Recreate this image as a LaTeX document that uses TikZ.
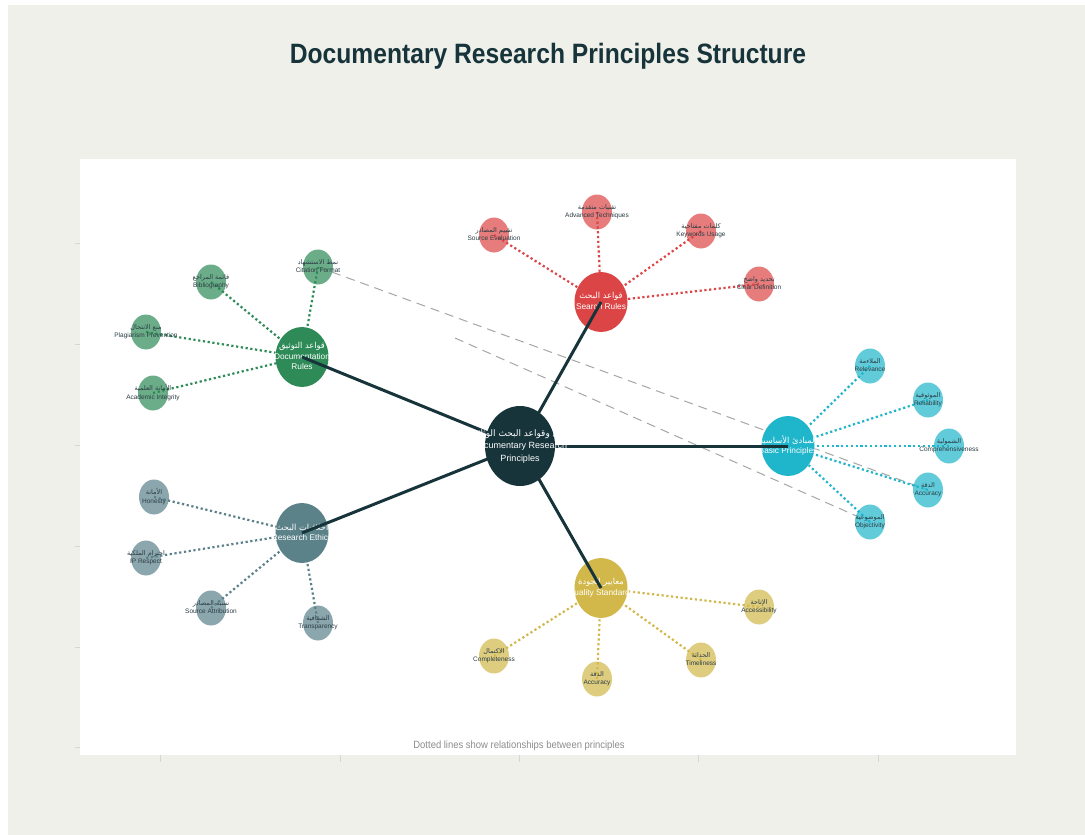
\documentclass[tikz,border=0pt]{standalone}
\usepackage{fontspec}
\setmainfont{Liberation Sans}
\newfontfamily\arabicfont[Script=Arabic]{DejaVu Sans}
\TeXXeTstate=1
\usetikzlibrary{shapes.geometric}

\definecolor{paper}{HTML}{F0F0EB}
\definecolor{ink}{HTML}{17343B}
\definecolor{kidink}{HTML}{2B3D44}
\definecolor{srch}{HTML}{DC4545}
\definecolor{docu}{HTML}{2E8B57}
\definecolor{basic}{HTML}{1FB5CB}
\definecolor{ethic}{HTML}{5B8189}
\definecolor{qual}{HTML}{D2B84A}
\definecolor{tickgray}{HTML}{D6D6D2}
\definecolor{notegray}{HTML}{8C8C8C}

\newcommand{\artxt}[1]{{\arabicfont\beginR #1\endR}}
\newcommand{\duo}[2]{\makebox[0pt]{\begin{tabular}{@{}c@{}}#1\\#2\end{tabular}}}

\pgfdeclarelayer{bglayer}
\pgfdeclarelayer{hublayer}
\pgfdeclarelayer{toplayer}
\pgfsetlayers{bglayer,main,hublayer,toplayer}

\begin{document}
\begin{tikzpicture}[
    x=1pt, y=-1pt,
    hubnode/.style={ellipse, fill=ink, minimum width=70pt, minimum height=80pt,
                    inner sep=0pt, text=white, font=\fontsize{9}{12.5}\selectfont},
    topic/.style={ellipse, minimum width=53pt, minimum height=60pt, inner sep=0pt,
                  text=white, font=\fontsize{8.3}{10.5}\selectfont},
    kid/.style={ellipse, minimum width=30pt, minimum height=35pt, inner sep=0pt,
                fill opacity=0.7, text opacity=1, text=kidink,
                font=\fontsize{6.5}{8.5}\selectfont},
    spoke/.style={line width=3pt, ink},
    twig/.style={line width=2.2pt, dash pattern=on 2.2pt off 2.6pt},
    xlink/.style={line width=1pt, gray!70, dash pattern=on 9pt off 6pt}
  ]
  \useasboundingbox (0,0) rectangle (1085,835);

  % ---- page and plot area ----
  \begin{pgfonlayer}{bglayer}
    \fill[white] (0,0) rectangle (1085,835);
    \fill[paper] (8,5) rectangle (1085,835);
    \fill[white] (80,159) rectangle (1016,755);
    \foreach \ty in {243,344,445,546,647,747}
      \draw[tickgray, line width=0.8pt] (75,\ty) -- (80,\ty);
    \foreach \tx in {160,340,519,698,878}
      \draw[tickgray, line width=0.8pt] (\tx,755) -- (\tx,762);
  \end{pgfonlayer}

  \node[text=ink, font=\fontsize{28}{32}\selectfont\bfseries] (title) at (548,56)
    {\scalebox{0.88}[1]{Documentary Research Principles Structure}};

  % ---- centre ----
  \begin{pgfonlayer}{toplayer}
    \node[hubnode] (hub) at (520,446)
      {\duo{\artxt{مبادئ وقواعد البحث الوثائقي}}{Documentary Research\\Principles}};
  \end{pgfonlayer}

  % ---- search rules ----
  \node[kid, fill=srch] (seval) at (494,235) {\duo{\artxt{تقييم المصادر}}{Source Evaluation}};
  \node[kid, fill=srch] (sadv) at (597,212) {\duo{\artxt{تقنيات متقدمة}}{Advanced Techniques}};
  \node[kid, fill=srch] (skey) at (701,231) {\duo{\artxt{كلمات مفتاحية}}{Keywords Usage}};
  \node[kid, fill=srch] (sdef) at (759,284) {\duo{\artxt{تحديد واضح}}{Clear Definition}};
  \node[topic, fill=srch] (search) at (601,302) {\duo{\artxt{قواعد البحث}}{Search Rules}};

  % ---- documentation rules ----
  \node[kid, fill=docu] (dcite) at (318,267) {\duo{\artxt{نمط الاستشهاد}}{Citation Format}};
  \node[kid, fill=docu] (dbib) at (211,282) {\duo{\artxt{قائمة المراجع}}{Bibliography}};
  \node[kid, fill=docu] (dplag) at (146,332) {\duo{\artxt{منع الانتحال}}{Plagiarism Prevention}};
  \node[kid, fill=docu] (dacad) at (153,393) {\duo{\artxt{الأمانة العلمية}}{Academic Integrity}};
  \node[topic, fill=docu] (docrules) at (302,357)
    {\duo{\artxt{قواعد التوثيق}}{Documentation\\Rules}};

  % ---- basic principles ----
  \node[kid, fill=basic] (brel) at (870,366) {\duo{\artxt{الملاءمة}}{Relevance}};
  \node[kid, fill=basic] (brelia) at (928,400) {\duo{\artxt{الموثوقية}}{Reliability}};
  \node[kid, fill=basic] (bcomp) at (949,446) {\duo{\artxt{الشمولية}}{Comprehensiveness}};
  \node[kid, fill=basic] (bacc) at (928,490) {\duo{\artxt{الدقة}}{Accuracy}};
  \node[kid, fill=basic] (bobj) at (870,522) {\duo{\artxt{الموضوعية}}{Objectivity}};
  \node[topic, fill=basic] (basicp) at (788,446) {\duo{\artxt{المبادئ الأساسية}}{Basic Principles}};

  % ---- research ethics ----
  \node[kid, fill=ethic] (ehon) at (154,497) {\duo{\artxt{الأمانة}}{Honesty}};
  \node[kid, fill=ethic] (eip) at (146,558) {\duo{\artxt{احترام الملكية}}{IP Respect}};
  \node[kid, fill=ethic] (esrc) at (211,608) {\duo{\artxt{نسبة المصادر}}{Source Attribution}};
  \node[kid, fill=ethic] (etrans) at (318,623) {\duo{\artxt{الشفافية}}{Transparency}};
  \node[topic, fill=ethic] (ethics) at (302,533) {\duo{\artxt{أخلاقيات البحث}}{Research Ethics}};

  % ---- quality standards ----
  \node[kid, fill=qual] (qacs) at (759,607) {\duo{\artxt{الإتاحة}}{Accessibility}};
  \node[kid, fill=qual] (qcomp) at (494,656) {\duo{\artxt{الاكتمال}}{Completeness}};
  \node[kid, fill=qual] (qacc) at (597,679) {\duo{\artxt{الدقة}}{Accuracy}};
  \node[kid, fill=qual] (qtime) at (701,660) {\duo{\artxt{الحداثة}}{Timeliness}};
  \node[topic, fill=qual] (quality) at (601,588) {\duo{\artxt{معايير الجودة}}{Quality Standards}};

  % ---- dotted and dashed links (under the circles) ----
  \coordinate (xstart) at (455,338);
  \begin{pgfonlayer}{bglayer}
    \draw[xlink] (dcite.center) -- (bacc.center);
    \draw[xlink] (xstart) -- (bobj.center);
    \foreach \k in {seval,sadv,skey,sdef}
      \draw[twig, srch] (\k.center) -- (search);
    \foreach \k in {dcite,dbib,dplag,dacad}
      \draw[twig, docu] (\k.center) -- (docrules);
    \foreach \k in {brel,brelia,bcomp,bacc,bobj}
      \draw[twig, basic] (\k.center) -- (basicp);
    \foreach \k in {ehon,eip,esrc,etrans}
      \draw[twig, ethic] (\k.center) -- (ethics);
    \foreach \k in {qacs,qcomp,qacc,qtime}
      \draw[twig, qual] (\k.center) -- (quality);
  \end{pgfonlayer}

  % ---- spokes from the centre ----
  \begin{pgfonlayer}{hublayer}
    \foreach \t in {search,docrules,basicp,ethics,quality}
      \draw[spoke] (hub.center) -- (\t.center);
  \end{pgfonlayer}

  \node[text=notegray, font=\fontsize{10.5}{12}\selectfont] (note) at (519,746)
    {\scalebox{0.9}[1]{Dotted lines show relationships between principles}};

\end{tikzpicture}
\end{document}
